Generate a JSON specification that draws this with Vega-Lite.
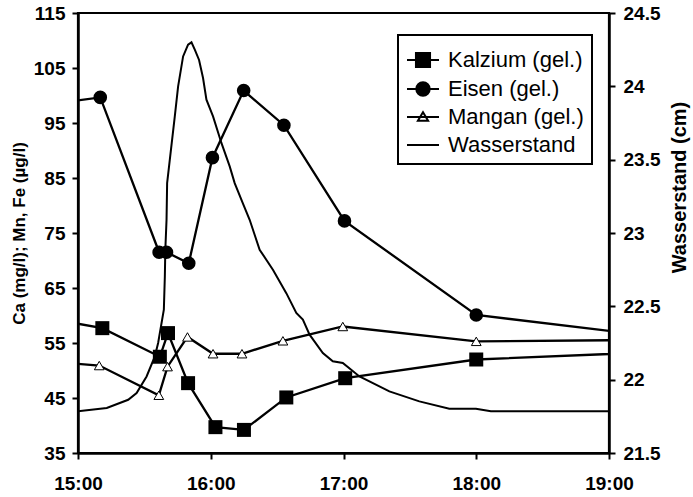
{
  "$schema": "https://vega.github.io/schema/vega-lite/v6.json",
  "width": 531,
  "height": 440,
  "autosize": {"type": "none"},
  "padding": {"left": 78, "top": 13, "right": 84, "bottom": 44},
  "config": {
    "view": {"stroke": "black", "strokeWidth": 2.2},
    "font": "Liberation Sans",
    "axis": {
      "grid": false,
      "labelColor": "black",
      "labelFont": "Liberation Sans",
      "labelFontWeight": "bold",
      "labelFontSize": 19,
      "titleFont": "Liberation Sans",
      "titleFontWeight": "bold",
      "titleColor": "black"
    },
    "legend": {"strokeWidth": 2}
  },
  "datasets": {
    "chem": [
      {"time": "2000-01-01T14:45:00", "series": "Kalzium (gel.)", "value": 59.6},
      {"time": "2000-01-01T15:11:00", "series": "Kalzium (gel.)", "value": 57.7},
      {"time": "2000-01-01T15:37:00", "series": "Kalzium (gel.)", "value": 52.5},
      {"time": "2000-01-01T15:40:40", "series": "Kalzium (gel.)", "value": 56.8},
      {"time": "2000-01-01T15:49:45", "series": "Kalzium (gel.)", "value": 47.7},
      {"time": "2000-01-01T16:02:07", "series": "Kalzium (gel.)", "value": 39.7},
      {"time": "2000-01-01T16:15:00", "series": "Kalzium (gel.)", "value": 39.2},
      {"time": "2000-01-01T16:34:09", "series": "Kalzium (gel.)", "value": 45.1},
      {"time": "2000-01-01T17:00:46", "series": "Kalzium (gel.)", "value": 48.6},
      {"time": "2000-01-01T18:00:00", "series": "Kalzium (gel.)", "value": 52.0},
      {"time": "2000-01-01T19:30:00", "series": "Kalzium (gel.)", "value": 53.5},
      {"time": "2000-01-01T14:45:00", "series": "Eisen (gel.)", "value": 98.3},
      {"time": "2000-01-01T15:10:04", "series": "Eisen (gel.)", "value": 99.65},
      {"time": "2000-01-01T15:36:40", "series": "Eisen (gel.)", "value": 71.5},
      {"time": "2000-01-01T15:40:00", "series": "Eisen (gel.)", "value": 71.5},
      {"time": "2000-01-01T15:50:04", "series": "Eisen (gel.)", "value": 69.5},
      {"time": "2000-01-01T16:00:46", "series": "Eisen (gel.)", "value": 88.7},
      {"time": "2000-01-01T16:14:53", "series": "Eisen (gel.)", "value": 100.9},
      {"time": "2000-01-01T16:33:04", "series": "Eisen (gel.)", "value": 94.6},
      {"time": "2000-01-01T17:00:27", "series": "Eisen (gel.)", "value": 77.2},
      {"time": "2000-01-01T18:00:00", "series": "Eisen (gel.)", "value": 60.1},
      {"time": "2000-01-01T19:30:00", "series": "Eisen (gel.)", "value": 55.75},
      {"time": "2000-01-01T14:45:00", "series": "Mangan (gel.)", "value": 51.7},
      {"time": "2000-01-01T15:09:36", "series": "Mangan (gel.)", "value": 50.9},
      {"time": "2000-01-01T15:36:32", "series": "Mangan (gel.)", "value": 45.5},
      {"time": "2000-01-01T15:40:28", "series": "Mangan (gel.)", "value": 50.7},
      {"time": "2000-01-01T15:49:29", "series": "Mangan (gel.)", "value": 56.1},
      {"time": "2000-01-01T16:01:02", "series": "Mangan (gel.)", "value": 53.05},
      {"time": "2000-01-01T16:14:07", "series": "Mangan (gel.)", "value": 53.05},
      {"time": "2000-01-01T16:32:37", "series": "Mangan (gel.)", "value": 55.4},
      {"time": "2000-01-01T16:59:41", "series": "Mangan (gel.)", "value": 58.0},
      {"time": "2000-01-01T18:00:00", "series": "Mangan (gel.)", "value": 55.3},
      {"time": "2000-01-01T19:30:00", "series": "Mangan (gel.)", "value": 55.6}
    ],
    "wasser": [
      {"time": "2000-01-01T14:30:00", "level": 21.78},
      {"time": "2000-01-01T15:00:00", "level": 21.784},
      {"time": "2000-01-01T15:13:00", "level": 21.807},
      {"time": "2000-01-01T15:22:41", "level": 21.863},
      {"time": "2000-01-01T15:26:29", "level": 21.909},
      {"time": "2000-01-01T15:31:00", "level": 22.022},
      {"time": "2000-01-01T15:34:44", "level": 22.159},
      {"time": "2000-01-01T15:36:13", "level": 22.25},
      {"time": "2000-01-01T15:38:48", "level": 22.477},
      {"time": "2000-01-01T15:39:15", "level": 22.704},
      {"time": "2000-01-01T15:39:28", "level": 22.886},
      {"time": "2000-01-01T15:40:01", "level": 23.09},
      {"time": "2000-01-01T15:40:17", "level": 23.34},
      {"time": "2000-01-01T15:41:30", "level": 23.5},
      {"time": "2000-01-01T15:43:45", "level": 23.795},
      {"time": "2000-01-01T15:45:15", "level": 24.0},
      {"time": "2000-01-01T15:47:30", "level": 24.204},
      {"time": "2000-01-01T15:49:45", "level": 24.284},
      {"time": "2000-01-01T15:51:17", "level": 24.3},
      {"time": "2000-01-01T15:52:47", "level": 24.25},
      {"time": "2000-01-01T15:54:43", "level": 24.18},
      {"time": "2000-01-01T15:56:31", "level": 24.057},
      {"time": "2000-01-01T15:58:03", "level": 23.909},
      {"time": "2000-01-01T16:01:02", "level": 23.795},
      {"time": "2000-01-01T16:04:49", "level": 23.614},
      {"time": "2000-01-01T16:08:34", "level": 23.454},
      {"time": "2000-01-01T16:10:49", "level": 23.34},
      {"time": "2000-01-01T16:14:34", "level": 23.2},
      {"time": "2000-01-01T16:17:35", "level": 23.09},
      {"time": "2000-01-01T16:22:06", "level": 22.886},
      {"time": "2000-01-01T16:28:06", "level": 22.75},
      {"time": "2000-01-01T16:34:09", "level": 22.59},
      {"time": "2000-01-01T16:38:40", "level": 22.455},
      {"time": "2000-01-01T16:41:38", "level": 22.41},
      {"time": "2000-01-01T16:44:40", "level": 22.307},
      {"time": "2000-01-01T16:50:40", "level": 22.182},
      {"time": "2000-01-01T16:55:10", "level": 22.125},
      {"time": "2000-01-01T16:59:41", "level": 22.114},
      {"time": "2000-01-01T17:07:13", "level": 22.022},
      {"time": "2000-01-01T17:20:44", "level": 21.92},
      {"time": "2000-01-01T17:34:17", "level": 21.852},
      {"time": "2000-01-01T17:47:49", "level": 21.802},
      {"time": "2000-01-01T17:59:51", "level": 21.802},
      {"time": "2000-01-01T18:06:37", "level": 21.784},
      {"time": "2000-01-01T19:30:00", "level": 21.784}
    ]
  },
  "layer": [
    {
      "data": {"name": "chem"},
      "layer": [
        {
          "mark": {"type": "line", "color": "black", "strokeWidth": 2.3, "clip": true},
          "encoding": {
            "x": {
              "field": "time", "type": "temporal",
              "scale": {"domain": [{"year": 2000, "month": 1, "date": 1, "hours": 15}, {"year": 2000, "month": 1, "date": 1, "hours": 19}], "nice": false},
              "axis": {
                "orient": "bottom", "title": null, "format": "%H:%M",
                "tickCount": 4,
                "ticks": true, "tickColor": "#000000", "tickWidth": 2, "tickOpacity": 1,
                "domain": true, "domainColor": "#000000", "domainWidth": 2.5, "domainOpacity": 1,
                "tickSize": 6, "labelPadding": 15, "labelFlush": false, "labelOverlap": false
              }
            },
            "y": {
              "field": "value", "type": "quantitative",
              "scale": {"domain": [35, 115], "nice": false, "zero": false},
              "axis": {
                "orient": "left", "title": "Ca (mg/l); Mn, Fe (µg/l)",
                "values": [35, 45, 55, 65, 75, 85, 95, 105, 115],
                "ticks": true, "tickColor": "#000000", "tickWidth": 2, "tickOpacity": 1,
                "domain": true, "domainColor": "#000000", "domainWidth": 2.5, "domainOpacity": 1,
                "tickSize": 6, "labelPadding": 7, "titleFontSize": 17, "titlePadding": 5
              }
            },
            "detail": {"field": "series", "type": "nominal"}
          }
        },
        {
          "transform": [{"filter": "datum.series === 'Kalzium (gel.)'"}],
          "mark": {"type": "point", "shape": "square", "filled": true, "color": "black", "size": 196, "opacity": 1, "clip": true},
          "encoding": {
            "x": {"field": "time", "type": "temporal"},
            "y": {"field": "value", "type": "quantitative"}
          }
        },
        {
          "transform": [{"filter": "datum.series === 'Eisen (gel.)'"}],
          "mark": {"type": "point", "shape": "circle", "filled": true, "color": "black", "size": 185, "opacity": 1, "clip": true},
          "encoding": {
            "x": {"field": "time", "type": "temporal"},
            "y": {"field": "value", "type": "quantitative"}
          }
        },
        {
          "transform": [{"filter": "datum.series === 'Mangan (gel.)'"}],
          "mark": {"type": "point", "shape": "triangle-up", "filled": true, "fill": "white", "stroke": "black", "strokeWidth": 1, "size": 95, "opacity": 1, "clip": true},
          "encoding": {
            "x": {"field": "time", "type": "temporal"},
            "y": {"field": "value", "type": "quantitative"}
          }
        },
        {
          "transform": [{"filter": "datum.series === 'keine'"}],
          "mark": {"type": "point", "filled": true, "strokeWidth": 2, "opacity": 1},
          "encoding": {
            "x": {"field": "time", "type": "temporal"},
            "y": {"field": "value", "type": "quantitative"},
            "fill": {
              "field": "series", "type": "nominal",
              "scale": {"domain": ["Kalzium (gel.)", "Eisen (gel.)", "Mangan (gel.)", "Wasserstand"], "range": ["black", "black", "white", "black"]},
              "legend": {
                "orient": "none", "legendX": 320, "legendY": 22, "title": null,
                "symbolSize": 1024, "symbolStrokeWidth": 2, "symbolOpacity": 1,
                "labelFontSize": 22, "labelFont": "Liberation Sans", "labelFontWeight": "normal", "labelColor": "black",
                "padding": 8, "rowPadding": 0, "labelOffset": 8, "strokeColor": "black", "fillColor": "white"
              }
            },
            "stroke": {
              "field": "series", "type": "nominal",
              "scale": {"domain": ["Kalzium (gel.)", "Eisen (gel.)", "Mangan (gel.)", "Wasserstand"], "range": ["black", "black", "black", "black"]},
              "legend": {
                "orient": "none", "legendX": 320, "legendY": 22, "title": null,
                "symbolSize": 1024, "symbolStrokeWidth": 2, "symbolOpacity": 1,
                "labelFontSize": 22, "labelFont": "Liberation Sans", "labelFontWeight": "normal", "labelColor": "black",
                "padding": 8, "rowPadding": 0, "labelOffset": 8, "strokeColor": "black", "fillColor": "white"
              }
            },
            "shape": {
              "field": "series", "type": "nominal",
              "scale": {
                "domain": ["Kalzium (gel.)", "Eisen (gel.)", "Mangan (gel.)", "Wasserstand"],
                "range": [
                  "M-1,0H1M-0.44,-0.44H0.44V0.44H-0.44Z",
                  "M-1,0H1M0.42,0A0.42,0.42,0,1,1,-0.42,0A0.42,0.42,0,1,1,0.42,0Z",
                  "M-1,0H1M0,-0.3L0.32,0.24L-0.32,0.24Z",
                  "M-1,0H1"
                ]
              },
              "legend": {
                "orient": "none", "legendX": 320, "legendY": 22, "title": null,
                "symbolSize": 1024, "symbolStrokeWidth": 2, "symbolOpacity": 1,
                "labelFontSize": 22, "labelFont": "Liberation Sans", "labelFontWeight": "normal", "labelColor": "black",
                "padding": 8, "rowPadding": 0, "labelOffset": 8, "strokeColor": "black", "fillColor": "white"
              }
            }
          }
        }
      ]
    },
    {
      "data": {"name": "wasser"},
      "mark": {"type": "line", "color": "black", "strokeWidth": 2, "clip": true},
      "encoding": {
        "x": {
          "field": "time", "type": "temporal",
          "scale": {"domain": [{"year": 2000, "month": 1, "date": 1, "hours": 15}, {"year": 2000, "month": 1, "date": 1, "hours": 19}], "nice": false}
        },
        "y": {
          "field": "level", "type": "quantitative",
          "scale": {"domain": [21.5, 24.5], "nice": false, "zero": false},
          "axis": {
            "orient": "right", "title": "Wasserstand (cm)", "format": ".1~f",
            "values": [21.5, 22, 22.5, 23, 23.5, 24, 24.5],
            "ticks": true, "tickColor": "#000000", "tickWidth": 2, "tickOpacity": 1,
            "domain": true, "domainColor": "#000000", "domainWidth": 2.5, "domainOpacity": 1,
            "tickSize": 6, "labelPadding": 8, "titleFontSize": 20, "titlePadding": 10,
            "titleAngle": 270, "titleBaseline": "top", "titleY": 174
          }
        }
      }
    }
  ],
  "resolve": {"scale": {"y": "independent"}}
}
